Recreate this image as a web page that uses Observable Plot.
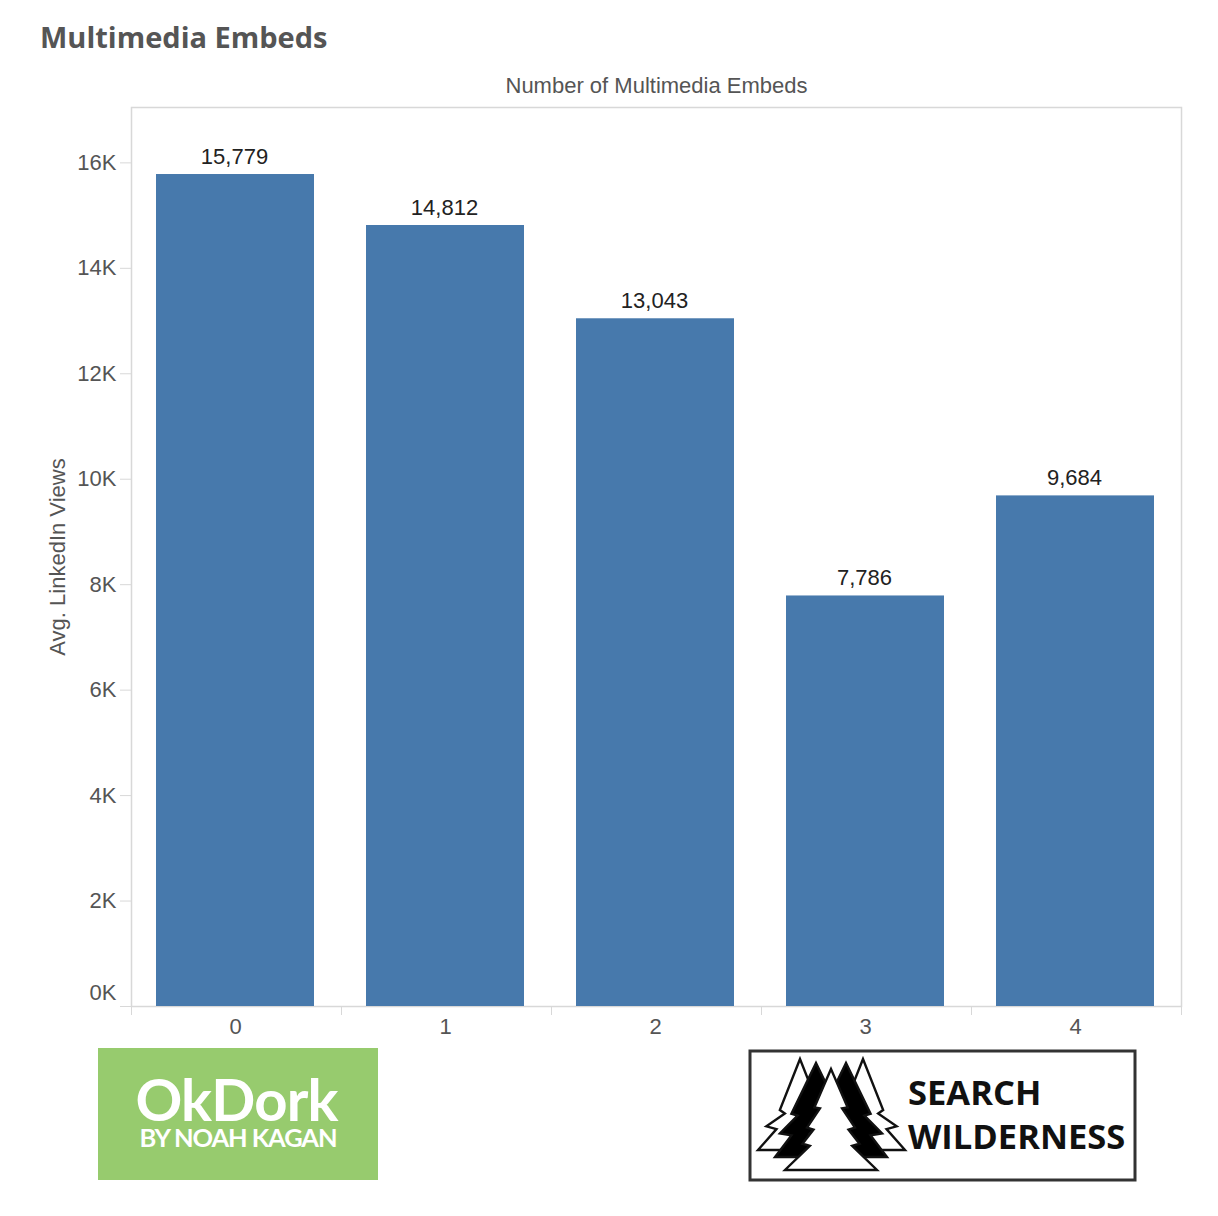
<!DOCTYPE html>
<html><head><meta charset="utf-8">
<script src="https://cdn.jsdelivr.net/npm/d3@7"></script>
<script src="https://cdn.jsdelivr.net/npm/@observablehq/plot@0.6"></script>
<style>
html,body{margin:0;padding:0;background:#fff}
#page{position:relative;width:1218px;height:1216px;overflow:hidden}
#title{position:absolute;left:40px;top:18px;font:700 29px "Open Sans",sans-serif;color:#555;line-height:38px}
#chart{position:absolute;left:0;top:70px}
#logos{position:absolute;left:0;top:1040px}
</style></head><body>
<div id="page">
<div id="title">Multimedia Embeds</div>
<div id="chart"></div>
<svg id="logos" width="1218" height="176" viewBox="0 1040 1218 176">
  <defs>
    <path id="backTree" d="M0 0L-.48 .56L-.36 .6L-.8 .74L-.56 .77L-1 1L1 1L.56 .77L.8 .74L.36 .6L.48 .56Z" vector-effect="non-scaling-stroke"/>
    <path id="midTree" d="M0 0L-.6 .54L-.45 .56L-.88 .75L-.6 .77L-1 1L1 1L.6 .77L.88 .75L.45 .56L.6 .54Z" vector-effect="non-scaling-stroke"/>
    <path id="frontTree" d="M0 0L-.36 .38L-.24 .39L-.52 .58L-.38 .6L-.62 .74L-.46 .76L-1 1L1 1L.46 .76L.62 .74L.38 .6L.52 .58L.24 .39L.36 .38Z" vector-effect="non-scaling-stroke"/>
  </defs>
  <rect x="98" y="1048" width="280" height="132" fill="#97cb6e"/>
  <text text-anchor="middle" font-family="Lato" font-weight="700" fill="#fff">
    <tspan x="238.5" y="1121" font-size="58" letter-spacing="-.8">OkDork</tspan>
    <tspan x="238" y="1147" font-size="25.5" letter-spacing="-1.1">BY NOAH KAGAN</tspan>
  </text>
  <rect x="750" y="1051" width="385" height="129" fill="#fff" stroke="#333" stroke-width="3"/>
  <g stroke="#111" stroke-width="2.4" stroke-linejoin="miter">
    <use href="#backTree" transform="translate(800 1059) scale(42 91)" fill="#fff"/>
    <use href="#backTree" transform="translate(863 1059) scale(42 91)" fill="#fff"/>
    <use href="#midTree" transform="translate(816 1063) scale(41 94)" fill="#000"/>
    <use href="#midTree" transform="translate(846 1063) scale(41 94)" fill="#000"/>
    <use href="#frontTree" transform="translate(831 1069) scale(46 101)" fill="#fff"/>
  </g>
  <text x="908" y="1105" font-family="Open Sans" font-weight="700" font-size="34.5" fill="#111">SEARCH</text>
  <text x="908" y="1149" font-family="Open Sans" font-weight="700" font-size="34.5" fill="#111">WILDERNESS</text>
</svg>
</div>
<script>
const embeds = ["0","1","2","3","4"];
const views = [15779,14812,13043,7786,9684];
const yTicks = [2000,4000,6000,8000,10000,12000,14000,16000];
const rows = embeds.map((e,i)=>({embeds:e,views:views[i]}));
const kFmt = d => (d/1000)+"K";
const numFmt = d3.format(",");
const grey = "#d8d8d8";
const font = "'Liberation Sans',Arial,sans-serif";

const chart = Plot.plot({
  width:1218, height:976,
  marginLeft:131, marginRight:37, marginTop:37, marginBottom:40,
  style:{fontFamily:font,fontSize:"22px",background:"transparent",color:"#555"},
  x:{type:"band",domain:embeds,paddingInner:.248,paddingOuter:.124},
  y:{domain:[0,17050]},
  marks:[
    Plot.frame({stroke:grey,strokeWidth:1.5}),
    Plot.barY(rows,{x:"embeds",y:"views",fill:"#4779ac",dx:-1}),
    Plot.text(rows,{x:"embeds",y:"views",text:d=>numFmt(d.views),dy:-18,dx:-2,fill:"#222",fontSize:22}),
    Plot.axisY({ticks:yTicks,tickFormat:kFmt,tickSize:11,tickPadding:4,stroke:grey,fill:"#555",
      label:"Avg. LinkedIn Views",labelAnchor:"center",labelArrow:"none",labelOffset:82}),
    Plot.axisY({ticks:[0],tickFormat:()=>"",tickSize:11,stroke:grey,label:null}),
    Plot.axisY({ticks:[0],tickFormat:kFmt,tickSize:0,tickPadding:15,dy:-14,fill:"#555",label:null}),
    Plot.axisX({tickSize:0,tickPadding:12,dx:-1,fill:"#555",label:null,fontWeight:500}),
    Plot.axisX({tickSize:9,stroke:grey,tickFormat:()=>"",dx:-105,label:null}),
    Plot.axisX({ticks:["4"],tickSize:9,stroke:grey,tickFormat:()=>"",dx:105,label:null}),
    Plot.axisX({anchor:"top",ticks:[],label:"Number of Multimedia Embeds",labelAnchor:"center",labelArrow:"none",labelOffset:30,fill:"#555",dx:-3})
  ]
});
document.getElementById("chart").appendChild(chart);
</script>
</body></html>
